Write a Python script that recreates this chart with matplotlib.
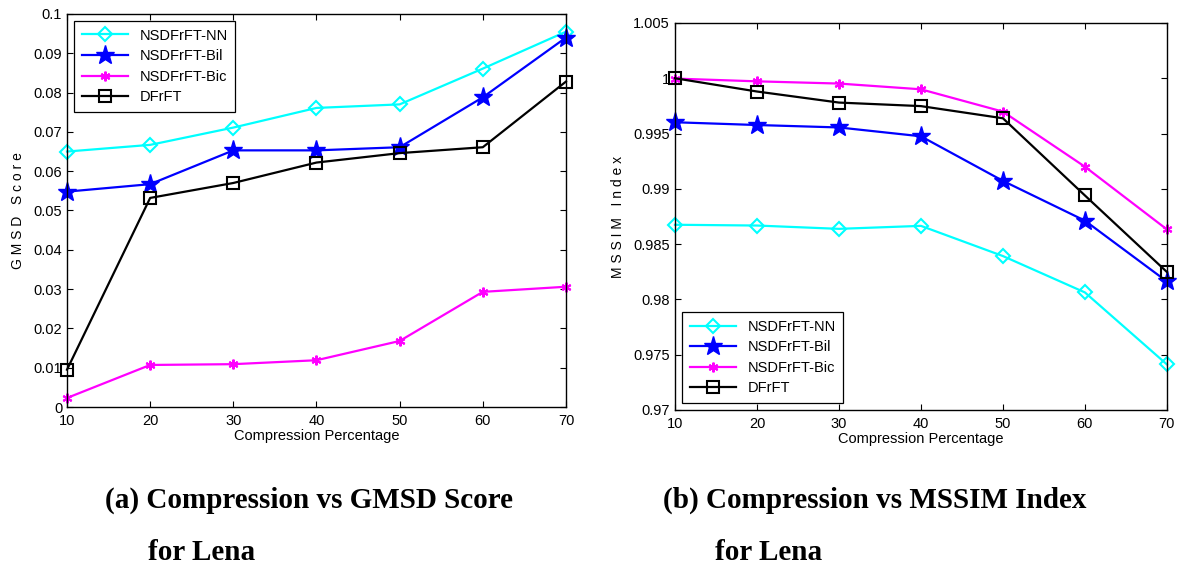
import matplotlib.pyplot as plt

plt.rcParams['font.family'] = ['Liberation Sans', 'DejaVu Sans']

compression = [10, 20, 30, 40, 50, 60, 70]

# (a) GMSD score
gmsd_nn = [0.0650, 0.0667, 0.0711, 0.0761, 0.0770, 0.0861, 0.0955]
gmsd_bil = [0.0548, 0.0567, 0.0653, 0.0653, 0.0661, 0.0788, 0.0940]
gmsd_bic = [0.0023, 0.0107, 0.0109, 0.0119, 0.0168, 0.0293, 0.0306]
gmsd_dfrft = [0.0095, 0.0532, 0.0570, 0.0622, 0.0646, 0.0661, 0.0828]

# (b) MSSIM index
mssim_nn = [0.98675, 0.98668, 0.98638, 0.98665, 0.98392, 0.98063, 0.97412]
mssim_bil = [0.99602, 0.99577, 0.99555, 0.99475, 0.99072, 0.98712, 0.98162]
mssim_bic = [0.99997, 0.99972, 0.99952, 0.99900, 0.99698, 0.99200, 0.98633]
mssim_dfrft = [1.00000, 0.99880, 0.99780, 0.99748, 0.99638, 0.98940, 0.98248]

labels = ['NSDFrFT-NN', 'NSDFrFT-Bil', 'NSDFrFT-Bic', 'DFrFT']
gmsd_ticks = [0, 0.01, 0.02, 0.03, 0.04, 0.05, 0.06, 0.07, 0.08, 0.09, 0.1]
gmsd_ticklabels = ['0', '0.01', '0.02', '0.03', '0.04', '0.05', '0.06', '0.07', '0.08', '0.09', '0.1']
mssim_ticks = [0.97, 0.975, 0.98, 0.985, 0.99, 0.995, 1.0, 1.005]
mssim_ticklabels = ['0.97', '0.975', '0.98', '0.985', '0.99', '0.995', '1', '1.005']

styles = [
    dict(color='#00ffff', marker='D', markersize=7.5, markerfacecolor='none', markeredgewidth=1.5),
    dict(color='#0000ff', marker='*', markersize=14, markerfacecolor='#0000ff', markeredgewidth=1),
    dict(color='#ff00ff', marker=(6, 2, 0), markersize=7, markeredgewidth=1.5),
    dict(color='#000000', marker='s', markersize=9, markerfacecolor='none', markeredgewidth=1.5),
]

fig = plt.figure(figsize=(11.86, 5.71), dpi=100)
ax1 = fig.add_axes([0.0565, 0.2872, 0.4207, 0.6883])
ax2 = fig.add_axes([0.5691, 0.2820, 0.4148, 0.6778])


def style_axes(ax, ticks, ticklabels, ylabel):
    ax.set_xlim(10, 70)
    ax.set_ylim(ticks[0], ticks[-1])
    ax.set_xticks(compression)
    ax.set_yticks(ticks)
    ax.set_yticklabels(ticklabels)
    ax.tick_params(direction='in', top=True, right=True, labelsize=10.5, length=4, width=0.8)
    ax.tick_params(axis='x', pad=5)
    for s in ax.spines.values():
        s.set_linewidth(1.0)
    ax.set_xlabel('Compression Percentage', fontsize=10.5, labelpad=1)
    ax.set_ylabel(ylabel, fontsize=10, labelpad=6)


for ys, lab, st in zip([gmsd_nn, gmsd_bil, gmsd_bic, gmsd_dfrft], labels, styles):
    ax1.plot(compression, ys, label=lab, linewidth=1.6, clip_on=False, **st)
style_axes(ax1, gmsd_ticks, gmsd_ticklabels, 'G M S D   S c o r e')
leg1 = ax1.legend(loc='upper left', fontsize=10.5, numpoints=1, fancybox=False,
                  edgecolor='black', framealpha=1, borderaxespad=0.5,
                  handlelength=3.2, labelspacing=0.45, borderpad=0.5)
leg1.get_frame().set_linewidth(0.9)

for ys, lab, st in zip([mssim_nn, mssim_bil, mssim_bic, mssim_dfrft], labels, styles):
    ax2.plot(compression, ys, label=lab, linewidth=1.6, clip_on=False, **st)
style_axes(ax2, mssim_ticks, mssim_ticklabels, 'M S S I M   I n d e x')
leg2 = ax2.legend(loc='lower left', fontsize=10.5, numpoints=1, fancybox=False,
                  edgecolor='black', framealpha=1, borderaxespad=0.5,
                  handlelength=3.2, labelspacing=0.45, borderpad=0.5)
leg2.get_frame().set_linewidth(0.9)

cap = dict(fontsize=21, fontweight='bold', family='Liberation Serif', ha='left', va='baseline')
fig.text(105 / 1186, 1 - 508 / 571, '(a) Compression vs GMSD Score', **cap)
fig.text(148 / 1186, 1 - 560 / 571, 'for Lena', **cap)
fig.text(663 / 1186, 1 - 508 / 571, '(b) Compression vs MSSIM Index', **cap)
fig.text(715 / 1186, 1 - 560 / 571, 'for Lena', **cap)

fig.savefig('out.png', dpi=100)
